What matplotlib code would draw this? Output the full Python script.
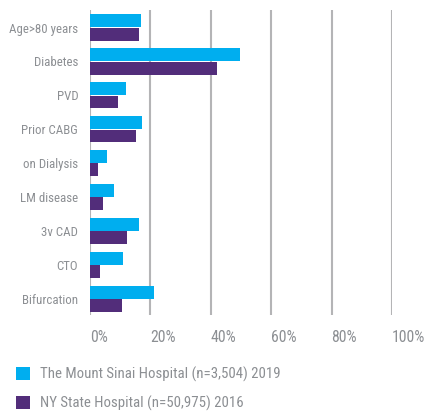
import matplotlib
matplotlib.use('Agg')
import matplotlib.pyplot as plt
from matplotlib.patches import Patch
import numpy as np

categories = ['Age>80 years', 'Diabetes', 'PVD', 'Prior CABG', 'on Dialysis',
              'LM disease', '3v CAD', 'CTO', 'Bifurcation']
mount_sinai = [16.9, 49.6, 11.9, 17.2, 5.5, 7.9, 16.1, 10.9, 21.2]
ny_state = [16.1, 42.0, 9.3, 15.2, 2.6, 4.2, 12.2, 3.3, 10.6]
xticks = [0, 20, 40, 60, 80, 100]
xtick_labels = ['0%', '20%', '40%', '60%', '80%', '100%']
series_names = ['The Mount Sinai Hospital (n=3,504) 2019',
                'NY State Hospital (n=50,975) 2016']

cyan = '#00AEEF'
purple = '#522D7A'
txt = '#8C8F93'
grid_c = '#B4B4B6'

plt.rcParams['font.family'] = ['Roboto Condensed', 'DejaVu Sans']

fig = plt.figure(figsize=(4.28, 4.12), dpi=100)
ax = fig.add_axes([90/428, 1-315/412, 302/428, 305/412])

y = np.arange(len(categories))
h = 0.38
ax.barh(y - 0.195, mount_sinai, height=h, color=cyan, zorder=3)
ax.barh(y + 0.195, ny_state, height=h, color=purple, zorder=3)

ax.set_xlim(0, 100)
ax.set_ylim(8.47, -0.516)
for xv in xticks:
    ax.axvline(xv, color=grid_c, lw=1.5, zorder=1)

for s in ax.spines.values():
    s.set_visible(False)
ax.set_yticks(y)
ax.set_yticklabels(categories, fontsize=9.3, color=txt)
ax.set_xticks(xticks)
ax.set_xticklabels(xtick_labels, fontsize=11.3, color=txt, ha='left')
ax.tick_params(axis='y', length=0, pad=8.5)
ax.tick_params(axis='x', length=0, pad=11)

handles = [Patch(facecolor=cyan), Patch(facecolor=purple)]
fig.legend(handles, series_names, loc='upper left', bbox_to_anchor=(16/428, 1-367/412),
           frameon=False, fontsize=10.7, labelcolor=txt, handlelength=0.97,
           handleheight=0.97, handletextpad=0.67, labelspacing=0.9,
           borderaxespad=0, borderpad=0)

fig.savefig('out.png', dpi=100)
